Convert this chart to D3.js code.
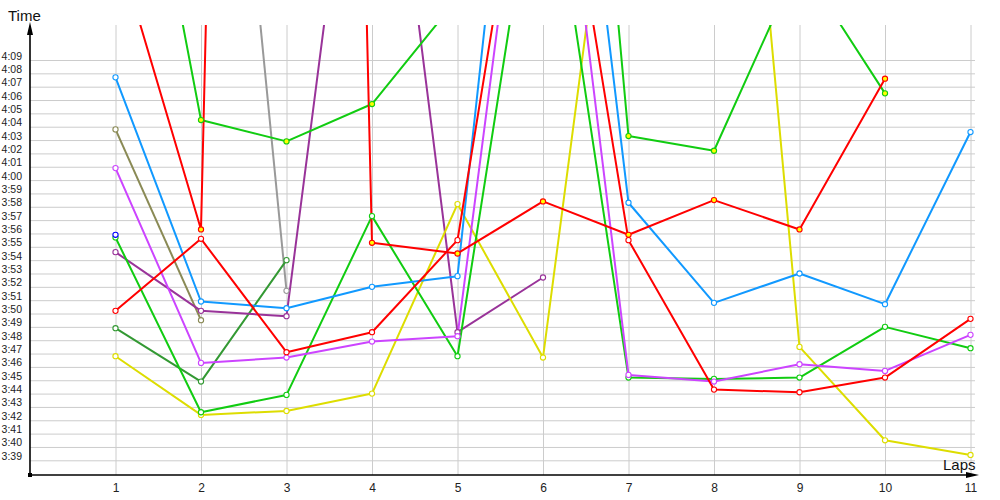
<!DOCTYPE html>
<html>
<head>
<meta charset="utf-8">
<script src="https://cdn.jsdelivr.net/npm/d3@7"></script>
<style>
  body { margin: 0; background: #fff; }
  text { font-family: "Liberation Sans", Arial, sans-serif; }
</style>
</head>
<body>
<div id="chart"></div>
<script>
// lap times in seconds, one value per lap (null = no lap)
var laps = [1, 2, 3, 4, 5, 6, 7, 8, 9, 10, 11];
var secondTicks = d3.range(219, 250);

var redA      = [230.2, 235.6, 227.1, 228.6, 235.5, 274.8, 235.5, 224.3, 224.1, 225.2, 229.6];
var redB      = [257.9, 236.3, 507.0, 235.3, 234.5, 238.4, 235.9, 238.5, 236.3, 247.6, null];
var greenA    = [235.7, 222.6, 223.9, 237.3, 226.8, 267.6, 225.2, 225.1, 225.2, 229.0, 227.4];
var greenB    = [278.1, 244.5, 242.9, 245.7, 253.6, 314.0, 243.3, 242.2, 256.4, 246.5, null];
var darkGreen = [228.9, 224.9, 234.0, null, null, null, null, null, null, null, null];
var olive     = [243.8, 229.5, null, null, null, null, null, null, null, null, null];
var gray      = [null, 297.0, 231.7, null, null, null, null, null, null, null, null];
var purple    = [234.6, 230.2, 229.8, 279.5, 228.6, 232.7, null, null, null, null, null];
var violet    = [240.9, 226.3, 226.7, 227.9, 228.3, 277.9, 225.4, 224.9, 226.2, 225.7, 228.4];
var lightBlue = [247.7, 230.9, 230.4, 232.0, 232.8, 291.6, 238.3, 230.8, 233.0, 230.7, 243.6];
var yellow    = [226.8, 222.4, 222.7, 224.0, 238.2, 226.7, 275.5, 297.6, 227.5, 220.5, 219.4];
var darkBlue  = [235.9, null, null, null, null, null, null, null, null, null, null];

// drawing order + styles
var series = [
    {values: olive,     color: "#8a8a55", fill: "#fff"},
    {values: gray,      color: "#999999", fill: "#fff"},
    {values: darkGreen, color: "#339933", fill: "#fff"},
    {values: purple,    color: "#993399", fill: "#fff"},
    {values: yellow,    color: "#dddd00", fill: "#fff"},
    {values: greenA,    color: "#11cc11", fill: "#fff"},
    {values: violet,    color: "#cc44ff", fill: "#fff"},
    {values: lightBlue, color: "#1199ff", fill: "#fff"},
    {values: greenB,    color: "#11cc11", fill: "#ffff00"},
    {values: redA,      color: "#ff0000", fill: "#fff"},
    {values: redB,      color: "#ff0000", fill: "#ffff00"},
    {values: darkBlue,  color: "#0000ff", fill: "#fff"}
];

var width = 1000, height = 500;
var plotLeft = 30, plotRight = 975, plotTop = 25, plotBottom = 475;

var x = d3.scaleLinear().domain([0, 11]).range([30, 970.5]);
var y = d3.scaleLinear().domain([219, 249]).range([460.3, 60]);

var fmt = function(s) {
    var m = Math.floor(s / 60), r = Math.round(s - m * 60);
    return m + ":" + (r < 10 ? "0" : "") + r;
};

var svg = d3.select("#chart")
    .append("svg")
    .attr("width", width)
    .attr("height", height);

svg.append("defs").append("clipPath")
    .attr("id", "plot")
    .append("rect")
    .attr("x", plotLeft).attr("y", plotTop)
    .attr("width", plotRight - plotLeft).attr("height", plotBottom - plotTop);

// grid
svg.append("g")
    .attr("transform", "translate(" + plotLeft + ",0)")
    .call(d3.axisLeft(y).tickValues(secondTicks).tickSize(-(plotRight - plotLeft)).tickFormat(""))
    .call(function(g) { g.select(".domain").remove(); })
    .selectAll("line").attr("stroke", "#cccccc");

svg.append("g")
    .attr("transform", "translate(0," + plotBottom + ")")
    .call(d3.axisBottom(x).tickValues(laps).tickSize(-(plotBottom - plotTop)).tickFormat(""))
    .call(function(g) { g.select(".domain").remove(); })
    .selectAll("line").attr("stroke", "#cccccc");

// tick labels
var yLabels = svg.append("g")
    .attr("transform", "translate(" + plotLeft + ",0)")
    .call(d3.axisLeft(y).tickValues(secondTicks).tickSize(0).tickPadding(8).tickFormat(fmt));
yLabels.select(".domain").remove();
yLabels.selectAll("text")
    .attr("dy", "-1")
    .attr("font-size", "10.5px")
    .attr("font-family", "Liberation Sans, Arial, sans-serif")
    .attr("fill", "#222");

var xLabels = svg.append("g")
    .attr("transform", "translate(0," + plotBottom + ")")
    .call(d3.axisBottom(x).tickValues(laps).tickSize(0).tickPadding(8).tickFormat(d3.format("d")));
xLabels.select(".domain").remove();
xLabels.selectAll("text")
    .attr("font-size", "12px")
    .attr("font-family", "Liberation Sans, Arial, sans-serif")
    .attr("fill", "#222");

// lines + markers
var plot = svg.append("g").attr("clip-path", "url(#plot)");

var line = d3.line()
    .defined(function(d) { return d != null; })
    .x(function(d, i) { return x(laps[i]); })
    .y(function(d) { return y(d); });

series.forEach(function(s) {
    plot.append("path")
        .datum(s.values)
        .attr("fill", "none")
        .attr("stroke", s.color)
        .attr("stroke-width", 2)
        .attr("stroke-linejoin", "round")
        .attr("d", line);
});

series.forEach(function(s) {
    plot.selectAll(null)
        .data(s.values.map(function(v, i) { return {lap: laps[i], v: v}; })
            .filter(function(d) { return d.v != null; }))
        .enter()
        .append("circle")
        .attr("cx", function(d) { return x(d.lap); })
        .attr("cy", function(d) { return y(d.v); })
        .attr("r", 2.6)
        .attr("fill", s.fill)
        .attr("stroke", s.color)
        .attr("stroke-width", 1.1);
});

// axis lines with arrows
svg.append("line")
    .attr("x1", plotLeft).attr("y1", plotBottom).attr("x2", plotLeft).attr("y2", 30)
    .attr("stroke", "#000").attr("stroke-width", 1.6);
svg.append("path")
    .attr("d", "M" + plotLeft + ",22 L" + (plotLeft - 3) + ",35 L" + (plotLeft + 3) + ",35 Z")
    .attr("fill", "#000");

svg.append("line")
    .attr("x1", plotLeft).attr("y1", plotBottom).attr("x2", 972).attr("y2", plotBottom)
    .attr("stroke", "#000").attr("stroke-width", 1.6);
svg.append("path")
    .attr("d", "M979," + plotBottom + " L966," + (plotBottom - 3) + " L966," + (plotBottom + 3) + " Z")
    .attr("fill", "#000");

svg.append("rect")
    .attr("x", plotLeft - 2).attr("y", plotBottom - 2)
    .attr("width", 4).attr("height", 4)
    .attr("fill", "#000");

// titles
svg.append("text")
    .attr("x", 8).attr("y", 21)
    .attr("font-size", "15px")
    .attr("fill", "#111")
    .text("Time");

svg.append("text")
    .attr("x", 943).attr("y", 470)
    .attr("font-size", "15px")
    .attr("fill", "#111")
    .text("Laps");
</script>
</body>
</html>
